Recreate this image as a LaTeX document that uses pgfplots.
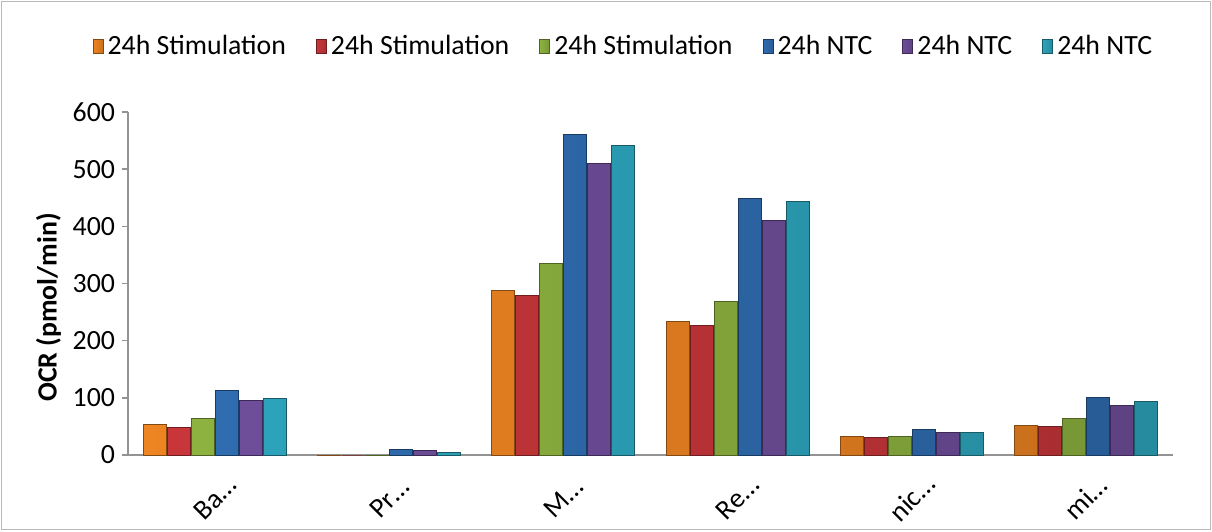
\documentclass[border=0pt]{standalone}
\usepackage{fontspec}
\setmainfont{Carlito}
\usepackage{pgfplots}
\pgfplotsset{compat=1.18}

\definecolor{cOr}{HTML}{EE8422}
\definecolor{cRe}{HTML}{C8363A}
\definecolor{cGr}{HTML}{8DB23F}
\definecolor{cBl}{HTML}{2F6CB0}
\definecolor{cPu}{HTML}{6E4D99}
\definecolor{cTe}{HTML}{2CA3BA}

\pgfplotsset{
  sq legend/.style={legend image code/.code={\draw[##1] (0pt,-3.5pt) rectangle (5pt,3.5pt);}},
  bar3d/.style={sq legend, left color=#1, middle color=#1!85!white, right color=#1!85!black, draw=#1!55!black, line width=0.5pt},
}

\begin{document}
\begin{tikzpicture}[font=\fontsize{13.9}{16}\selectfont]
\useasboundingbox (0,0) rectangle (606pt,265.5pt);
\draw[gray!55] (0.75pt,0.75pt) rectangle (605.25pt,264.75pt);
\begin{axis}[
    at={(64pt,38pt)}, anchor=south west,
    scale only axis, width=522.5pt, height=171.5pt,
    ymin=0, ymax=600, ytick={0,100,...,600},
    xmin=-0.5, xmax=5.5, xtick={0,...,5},
    xticklabels={Ba…,Pr…,M…,Re…,nic…,mi…},
    ybar=0.5pt, bar width=11.5pt,
    axis lines=left,
    axis line style={-, draw=gray!85, line width=0.8pt},
    tick align=outside,
    x tick style={draw=none},
    y tick style={draw=gray!85, line width=0.8pt},
    major tick length=3pt,
    /pgf/number format/assume math mode=true,
    every x tick label/.style={yshift=-18.5pt, rotate=45, anchor=center},
    ylabel={\bfseries OCR (pmol/min)},
    every axis y label/.style={at={(axis description cs:-0.0683,0.43)}, anchor=base, rotate=90},
    legend style={at={(axis description cs:0.475,1.19)}, anchor=center,
        draw=none, legend columns=6,
        /tikz/every even column/.append style={column sep=13pt}},
]
\addplot[bar3d=cOr] coordinates {(0,54) (1,-1) (2,287) (3,233) (4,33) (5,52)};
\addplot[bar3d=cRe] coordinates {(0,48) (1,0) (2,279) (3,227) (4,31) (5,50)};
\addplot[bar3d=cGr] coordinates {(0,64) (1,-1) (2,335) (3,268) (4,33) (5,63)};
\addplot[bar3d=cBl] coordinates {(0,112) (1,9) (2,561) (3,449) (4,45) (5,101)};
\addplot[bar3d=cPu] coordinates {(0,95) (1,7) (2,510) (3,411) (4,40) (5,87)};
\addplot[bar3d=cTe] coordinates {(0,99) (1,5) (2,542) (3,443) (4,40) (5,93)};
\legend{24h Stimulation,24h Stimulation,24h Stimulation,24h NTC,24h NTC,24h NTC}
\end{axis}
\end{tikzpicture}
\end{document}
